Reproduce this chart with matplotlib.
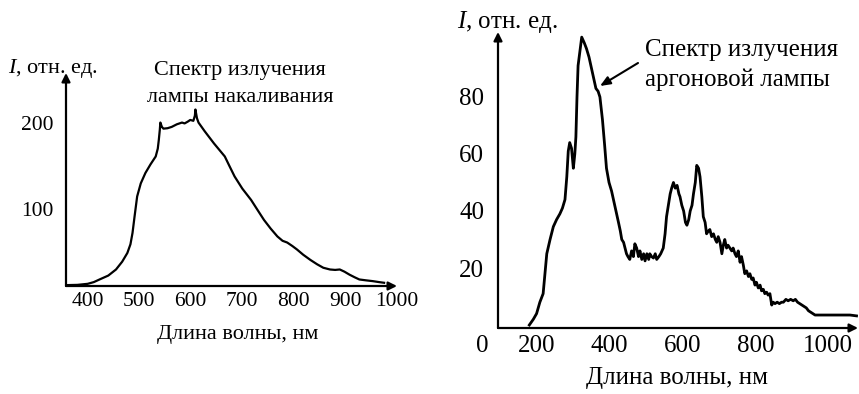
import matplotlib.pyplot as plt

plt.rcParams['font.family'] = ['Liberation Serif', 'DejaVu Serif']
plt.rcParams['mathtext.fontset'] = 'custom'
plt.rcParams['mathtext.it'] = 'Liberation Serif:italic'
plt.rcParams['mathtext.rm'] = 'Liberation Serif'

# Спектр лампы накаливания (длина волны, нм / интенсивность)
lamp_wl = [358, 380, 400, 412, 423, 440, 455, 467, 477, 483, 487, 491, 496, 503,
           512, 522, 532, 536, 538, 540, 541, 544, 547, 555, 563, 573, 583, 588,
           594, 599, 605, 608, 609, 612, 615, 627, 645, 666, 675, 685, 700, 717,
           730, 742, 755, 768, 778, 787, 797, 806, 818, 832, 845, 857, 870, 880,
           889, 898, 908, 918, 927, 940, 953, 965, 975]
lamp_int = [13, 13.3, 14.5, 16.5, 19.5, 24, 31, 40, 50, 60, 73, 92, 115, 130,
            142, 152, 161, 170, 180, 192, 200, 195, 193, 193.5, 195, 198, 200, 199,
            201, 203, 202, 208, 215, 205, 200, 190, 176, 161, 150, 138, 124, 111,
            99, 88, 78, 69, 64, 62, 58, 54, 48, 42, 37, 33, 31, 30.5,
            31, 28.5, 25, 22, 19.5, 18.5, 17.6, 16.5, 15.7]

# Спектр аргоновой лампы
argon_wl = [179, 190, 199, 208, 217, 222, 227, 236, 245, 254, 263, 270, 277, 282,
            286, 290, 295, 300, 304, 307, 310, 313, 318, 323, 330, 336, 343, 350,
            355, 362, 368, 373, 380, 386, 391, 398, 405, 412, 419, 424, 429, 433,
            438, 442, 446, 450, 455, 460, 465, 469, 474, 479, 483, 488, 493, 497,
            502, 507, 510, 515, 520, 525, 529, 535, 540, 547, 552, 556, 561, 566,
            570, 575, 580, 585, 590, 593, 598, 603, 608, 612, 617, 621, 626, 630,
            635, 639, 644, 648, 653, 657, 662, 666, 671, 675, 680, 685, 690, 694,
            698, 703, 708, 712, 716, 721, 725, 730, 735, 739, 744, 748, 753, 758,
            762, 767, 771, 776, 781, 785, 790, 794, 799, 803, 808, 813, 817, 822,
            826, 831, 835, 840, 845, 849, 854, 860, 866, 872, 877, 884, 890, 897,
            904, 910, 916, 922, 928, 934, 940, 946, 952, 958, 964, 980, 1000, 1020,
            1040, 1060, 1078]
argon_int = [0, 2, 4, 8, 11, 18, 25, 30, 34.5, 37, 39, 41, 44, 52,
             61, 64, 62, 55, 60, 66, 80, 91, 96, 101, 99, 97, 94, 90,
             87, 83, 82, 80, 72, 63, 55, 50, 47, 43, 39, 36, 33, 30,
             29, 27, 25, 24, 23, 26, 24, 28.5, 27, 24, 26, 23, 25, 22.5,
             25, 23, 25, 24, 23.5, 25, 23, 24, 25, 27, 32, 38, 42, 46,
             48, 50, 48, 49, 46, 45, 42, 40, 36, 35, 37, 40, 42, 46,
             50, 56, 55, 52, 45, 38, 36, 32, 33, 33.5, 31, 32, 30, 29,
             31, 29, 25, 28, 30, 27, 28, 27, 26, 27, 25, 24, 26, 22,
             24, 21, 18, 19, 17, 18, 16, 16.5, 14, 15, 13, 14, 12, 12.5,
             11, 11.5, 10.5, 11, 7, 8, 7.5, 8, 7.5, 8, 8, 9, 8.5, 9,
             8.5, 9, 8, 7.5, 7, 6.5, 6, 5, 4.5, 4, 3.5, 3.5, 3.5, 3.5,
             3.5, 3.5, 3.2]

lamp_ticks = [400, 500, 600, 700, 800, 900, 1000]
lamp_yticks = [100, 200]
argon_ticks = [200, 400, 600, 800, 1000]
argon_yticks = [20, 40, 60, 80]


def arrow_axes(ax, hw=0.25, hl=0.5):
    # оси со стрелками вместо рамки
    for s in ax.spines.values():
        s.set_visible(False)
    props = dict(arrowstyle=f'-|>,head_width={hw},head_length={hl}', color='black',
                 lw=1.6, shrinkA=0, shrinkB=0)
    ax.annotate('', xy=(0, 1), xytext=(0, 0), xycoords='axes fraction', arrowprops=props)
    ax.annotate('', xy=(1, 0), xytext=(0, 0), xycoords='axes fraction', arrowprops=props)
    ax.tick_params(length=0)


fig = plt.figure(figsize=(8.59, 3.94), dpi=100)

# ---------------- Левый график ----------------
ax1 = fig.add_axes([66 / 859, 1 - 286 / 394, 331 / 859, 213 / 394])
ax1.plot(lamp_wl, lamp_int, color='black', lw=1.6)
ax1.set_xlim(358, 992)
ax1.set_ylim(12, 257)
ax1.set_xticks(lamp_ticks)
ax1.set_yticks(lamp_yticks)
ax1.tick_params(axis='x', labelsize=15.5, pad=4)
ax1.tick_params(axis='y', labelsize=15.5, pad=9)
arrow_axes(ax1)
fig.text(8 / 859, 1 - 68 / 394, '$I$, отн. ед.', fontsize=16, va='center', ha='left')
fig.text(240 / 859, 1 - 70 / 394, 'Спектр излучения', fontsize=16, ha='center', va='center')
fig.text(240 / 859, 1 - 98 / 394, 'лампы накаливания', fontsize=16, ha='center', va='center')
fig.text(238 / 859, 1 - 334 / 394, 'Длина волны, нм', fontsize=16, ha='center', va='center')

# ---------------- Правый график ----------------
ax2 = fig.add_axes([498 / 859, 1 - 328 / 394, 360 / 859, 296 / 394])
ax2.plot(argon_wl, argon_int, color='black', lw=2.0)
ax2.set_xlim(93, 1082)
ax2.set_ylim(-1.05, 102.8)
ax2.set_xticks(argon_ticks)
ax2.set_yticks(argon_yticks)
ax2.tick_params(axis='x', labelsize=18, pad=5)
ax2.tick_params(axis='y', labelsize=18, pad=10)
arrow_axes(ax2)
ax2.annotate('0', xy=(0, 0), xycoords='axes fraction', xytext=(-16, -18),
             textcoords='offset pixels', fontsize=18, ha='center', va='center')
fig.text(457 / 859, 1 - 22 / 394, '$I$, отн. ед.', fontsize=18, va='center', ha='left')
fig.text(645 / 859, 1 - 50 / 394, 'Спектр излучения', fontsize=18, ha='left', va='center')
fig.text(645 / 859, 1 - 80 / 394, 'аргоновой лампы', fontsize=18, ha='left', va='center')
ax2.annotate('', xy=(600 / 859, 1 - 86 / 394), xytext=(638 / 859, 1 - 63 / 394),
             xycoords='figure fraction',
             arrowprops=dict(arrowstyle='-|>,head_width=0.25,head_length=0.6',
                             color='black', lw=1.5, shrinkA=0, shrinkB=0))
fig.text(677 / 859, 1 - 378 / 394, 'Длина волны, нм', fontsize=18, ha='center', va='center')

fig.savefig('out.png', dpi=100)
